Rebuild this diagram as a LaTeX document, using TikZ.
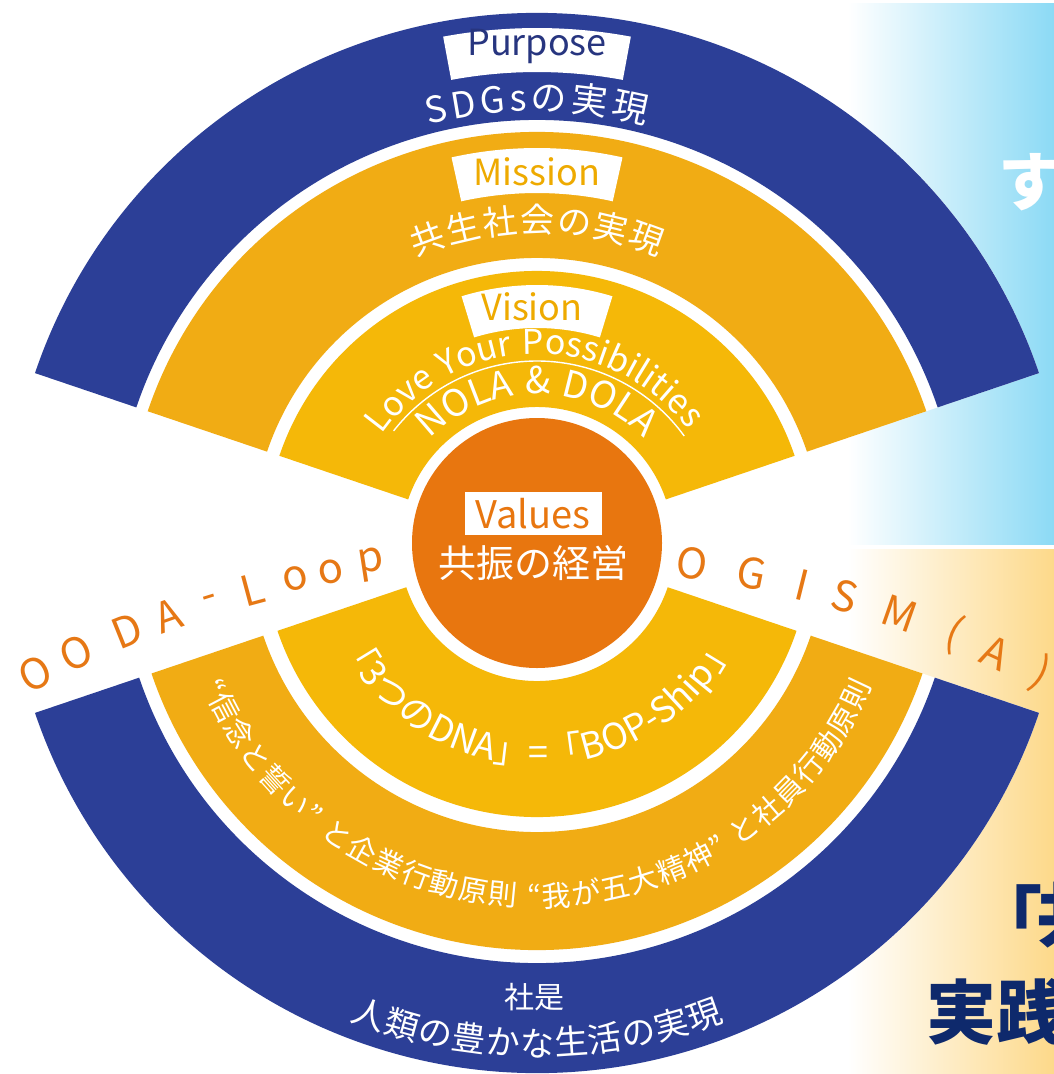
\documentclass[tikz,border=0pt]{standalone}
\usepackage{fontspec}
\setmainfont{Noto Sans CJK JP}
\definecolor{bandblue}{HTML}{2C3F97}
\definecolor{bandyel}{HTML}{F1AC14}
\definecolor{bandyeltwo}{HTML}{F5B808}
\definecolor{coreorange}{HTML}{E8760F}
\definecolor{loopor}{HTML}{E67815}
\definecolor{labblue}{HTML}{27357F}
\definecolor{labyel}{HTML}{EEAA00}
\definecolor{panelblue}{HTML}{8CDAF5}
\definecolor{panelyel}{HTML}{FDD98A}
\definecolor{navytext}{HTML}{0E296C}
\newcommand\ringsec[5]{\fill[#1] (#2:#4) arc[start angle=#2,end angle=#3,radius=#4] -- (#3:#5) arc[start angle=#3,end angle=#2,radius=#5] -- cycle;}
\newcommand\fz[1]{\fontsize{#1}{#1}\selectfont}
\newcommand\gap{\kern0.28em}
\newdimen\arcw
\tikzset{
  looplet/.style={font=\fz{42}, text=loopor, inner sep=0pt, anchor=center},
  boxlab/.style={font=\fz{36}, inner sep=0pt, anchor=base},
  whitelab/.style={text=white, inner sep=0pt, anchor=base},
  arcchar/.style={text=white, inner sep=0pt, anchor=base},
}
\makeatletter
% #1 radius (integer), #2 centre angle, #3 font size, #4 direction (1 over the top, -1 under the bottom),
% #5 extra tracking (pt), #6 name prefix, #7 comma list of characters
\newcommand\arctext[7]{%
  \font\arcmeasure="Noto Sans CJK JP" at #3pt\relax
  \global\arcw=0pt\relax
  \foreach \cc in {#7}{\setbox0=\hbox{\arcmeasure\cc}\global\advance\arcw by \wd0\relax\global\advance\arcw by #5pt\relax}%
  \global\advance\arcw by -#5pt\relax
  \xdef\arccur{\strip@pt\dimexpr #2pt + \arcw*2864789/\numexpr#1*100000\relax*#4\relax}%
  \foreach \cc [count=\i] in {#7}{%
    \setbox0=\hbox{\arcmeasure\cc}%
    \edef\arcmid{\strip@pt\dimexpr \arccur pt - \wd0*2864789/\numexpr#1*100000\relax*#4\relax}%
    \edef\arcrot{\strip@pt\dimexpr \arcmid pt - 90pt*#4\relax}%
    \node[arcchar, font=\fz{#3}, rotate=\arcrot] (#6\i) at (\arcmid:#1) {\cc};
    \xdef\arccur{\strip@pt\dimexpr \arccur pt - (\wd0+#5pt)*5729578/\numexpr#1*100000\relax*#4\relax}%
  }%
}
\makeatother
\begin{document}
\begin{tikzpicture}[x=1pt,y=1pt]
\useasboundingbox (0,0) rectangle (1054,-1074);
\fill[white] (0,0) rectangle (1054,-1074);
% right panels
\shade[left color=white, right color=panelblue] (848,-3) rectangle (1054,-544);
\shade[left color=white, right color=panelyel] (848,-549) rectangle (1054,-1074);
\begin{scope}
\clip (0,0) rectangle (1054,-1074);
\node[font=\fz{64}\bfseries, text=white, inner sep=0pt, anchor=west] (su) at (998,-182) {す};
\node[font=\fz{70}\bfseries, text=navytext, inner sep=0pt, anchor=west] (kakko) at (972,-915) {「};
\node[font=\fz{70}\bfseries, text=navytext, inner sep=0pt, anchor=west] (kyo) at (1036,-915) {共};
\node[font=\fz{70}\bfseries, text=navytext, inner sep=0pt, anchor=west] (jissen) at (926,-1012) {実践};
\end{scope}
% diagram
\begin{scope}[shift={(537,-543)}]
  \fill[white] (0,0) -- (18.7:530) arc[start angle=18.7,end angle=161.3,radius=530] -- cycle;
  \fill[white] (0,0) -- (198.7:530) arc[start angle=198.7,end angle=341.3,radius=530] -- cycle;
  % upper bands
  \ringsec{bandblue}{18.7}{161.3}{423}{530}
  \ringsec{bandyel}{18.7}{161.3}{285}{411}
  \ringsec{bandyeltwo}{18.7}{161.3}{136}{272}
  % lower bands
  \ringsec{bandblue}{198.7}{341.3}{420}{530}
  \ringsec{bandyel}{198.7}{341.3}{289}{407}
  \ringsec{bandyeltwo}{198.7}{341.3}{138}{274}
  % core
  \fill[coreorange] (0,0) circle (125);
  % label boxes
  \ringsec{white}{79.5}{100.5}{471}{515}
  \ringsec{white}{77.5}{102.5}{350}{395}
  \ringsec{white}{73}{107}{215}{258}
  \node[boxlab, text=labblue] (purpose) at (90:488) {Purpose};
  \node[boxlab, text=labyel] (mission) at (90:358) {Mission};
  \node[boxlab, text=labyel] (vision) at (-5,223) {Vision};
  % arc texts upper
  \arctext{432}{90}{36}{1}{4}{sdg}{S,D,G,s,の,実,現}
  \arctext{311}{90}{34}{1}{2}{kyosei}{共,生,社,会,の,実,現}
  \arctext{189}{91}{34}{1}{0}{love}{L,o,v,e,\gap,Y,o,u,r,\gap,P,o,s,s,i,b,i,l,i,t,i,e,s}
  \draw[white, line width=1.4pt] (142:182) arc[start angle=142,end angle=36,radius=182];
  \arctext{149}{90}{37}{1}{0}{nola}{N,O,L,A,\gap,\&,\gap,D,O,L,A}
  % arc texts lower
  \arctext{222}{270}{36}{-1}{0}{dna}{「,3,つ,の,D,N,A,」,=,「,B,O,P,-,S,h,i,p,」}
  \arctext{364}{270}{29}{-1}{1.5}{shinnen}{“,信,念,と,誓,い,”,\gap,と,企,業,行,動,原,則,\gap,“,我,が,五,大,精,神,”,\gap,と,社,員,行,動,原,則}
  \arctext{513}{270}{34}{-1}{1}{jinrui}{人,類,の,豊,か,な,生,活,の,実,現}
  \node[whitelab, font=\fz{30}] (shaze) at (-3,-465) {社是};
\end{scope}
% values
\fill[white] (465,-492) rectangle (602,-535);
\node[boxlab, font=\fz{38}, text=coreorange] (values) at (533,-528) {Values};
\node[whitelab, font=\fz{38}] (kyoshin) at (533,-577) {共振の経営};
% OODA-Loop / OGISM(A)
\begin{scope}[shift={(537,-1650)}]
  \foreach \ch/\t [count=\i] in {O/-27.2,O/-24.8,D/-21.9,A/-19.6,-/-17.3,L/-15.0,o/-12.7,o/-10.8,p/-8.7}
    \node[looplet, rotate={0-(\t)}] (ooda\i) at ({90-(\t)}:1098) {\ch};
  \foreach \ch/\t [count=\i] in {O/8.1,G/11.3,I/14.0,S/16.3,M/19.3,{(}/22.3,A/24.7,{)}/27.3}
    \node[looplet, rotate={0-(\t)}] (ogism\i) at ({90-(\t)}:1098) {\ch};
\end{scope}
\end{tikzpicture}
\end{document}
